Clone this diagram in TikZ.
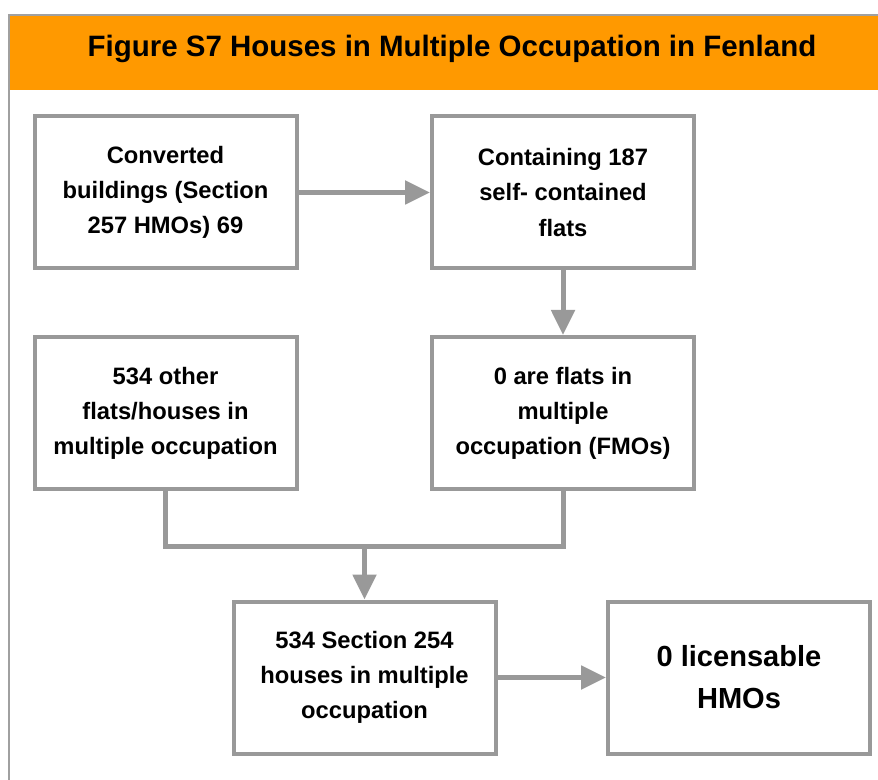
\documentclass[tikz,border=0pt]{standalone}
\usepackage{fontspec}
\setmainfont{Liberation Sans}
\usetikzlibrary{arrows.meta}
\definecolor{hdrorange}{HTML}{FF9900}
\definecolor{lgray}{HTML}{999999}
\definecolor{fgray}{HTML}{A0A0A0}
\tikzset{
  box/.style={draw=lgray, line width=3pt, fill=white, minimum width=196.5pt, minimum height=114pt,
    inner sep=0pt, align=center, font=\bfseries\fontsize{17.8pt}{26.3pt}\selectfont},
  bigbox/.style={box, font=\bfseries\fontsize{21.8pt}{31.5pt}\selectfont},
  conn/.style={draw=lgray, line width=3.75pt},
  arrow/.style={conn, -{Triangle[length=18.75pt, width=17.25pt]}},
}
\begin{document}
\begin{tikzpicture}[x=0.75pt, y=-0.75pt]
\useasboundingbox (0,0) rectangle (878,780);
% frame and header
\fill[hdrorange] (10,16) rectangle (878,90);
\draw[fgray, line width=1.5pt] (9,780) -- (9,15) -- (878,15);
\node[font=\bfseries\fontsize{22.1pt}{26pt}\selectfont] (title) at (452,49) {Figure S7 Houses in Multiple Occupation in Fenland};
% boxes
\node[box] (A) at (165.5,192.5) {Converted\\buildings (Section\\257 HMOs) 69};
\node[box] (B) at (563,192.5) {Containing 187\\self- contained\\flats};
\node[box] (C) at (165.5,413) {534 other\\flats/houses in\\multiple occupation};
\node[box] (D) at (563,413) {0 are flats in\\multiple\\occupation (FMOs)};
\node[box] (E) at (364.5,677.5) {534 Section 254\\houses in multiple\\occupation};
\node[bigbox] (F) at (739,677.5) {0 licensable\\HMOs};
\coordinate (j) at (364.5,546);
% connectors
\draw[arrow] (A.east) -- (B.west);
\draw[arrow] (B.south) -- (D.north);
\draw[conn] (C.south) |- (j) -| (D.south);
\draw[arrow] (j) -- (E.north);
\draw[arrow] (E.east) -- (F.west);
\end{tikzpicture}
\end{document}
